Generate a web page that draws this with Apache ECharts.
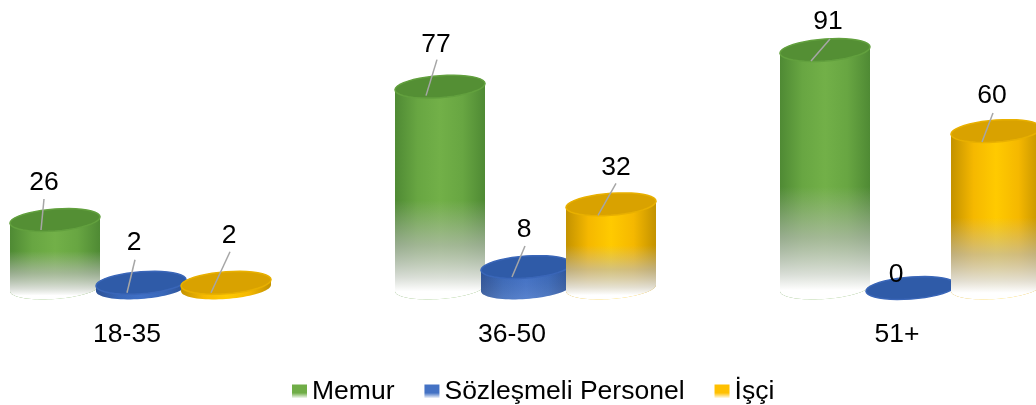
<!DOCTYPE html>
<html>
<head>
<meta charset="utf-8">
<script src="https://cdn.jsdelivr.net/npm/echarts@6/dist/echarts.min.js"></script>
<style>
html,body{margin:0;padding:0;background:#fff;}
#chart{width:1036px;height:405px;filter:blur(0.5px);}
</style>
</head>
<body>
<div id="chart"></div>
<script>
const categories = ['18-35', '36-50', '51+'];
const memur = [26, 77, 91];
const sozlesmeli = [2, 8, 0];
const isci = [2, 32, 60];

const FONT = '"Liberation Sans", Arial, sans-serif';
const BAR_RX = 45, BAR_RY = 11, TILT = Math.tan(4 * Math.PI / 180);

// label / leader line offsets from the bar top centre: [labelX, labelY, lineX1, lineY1, lineX2, lineY2]
const memurLabels = [[-11, -37, -11, -21, -14, 10], [-4, -42, -3, -27, -14, 9], [3, -28, 5, -11, -14, 11]];
const sozlesmeliLabels = [[-7, -40, -6, -23, -14, 10], [-2, -37, -1, -21, -14, 10], [-15, -13]];
const isciLabels = [[3, -47, 4, -31, -15, 10], [5, -37, 5, -21, -13, 11], [-4, -35, -3, -18, -14, 11]];

function bodyGradient(theme) {
    return new echarts.graphic.LinearGradient(0, 0, 1, 0, [
        { offset: 0, color: theme.edge },
        { offset: 0.25, color: theme.body },
        { offset: 0.5, color: theme.mid },
        { offset: 0.75, color: theme.body },
        { offset: 1, color: theme.edge }
    ]);
}

function legendGradient(color) {
    return new echarts.graphic.LinearGradient(0, 0, 0, 1, [
        { offset: 0, color: color },
        { offset: 0.6, color: color },
        { offset: 1, color: '#fff' }
    ]);
}

// tilted ellipse arc, from angle a to angle b
function arc(cx, cy, a, b) {
    const pts = [];
    const n = 40;
    for (let i = 0; i <= n; i++) {
        const t = a + (b - a) * i / n;
        const x = BAR_RX * Math.cos(t);
        pts.push([cx + x, cy + BAR_RY * Math.sin(t) - x * TILT]);
    }
    return pts;
}

function cylinder(offsetX, labels, theme) {
    return function (params, api) {
        const idx = api.value(0);
        const val = api.value(1);
        const top = api.coord([idx, val]);
        const base = api.coord([idx, 0]);
        const cx = top[0] + offsetX;
        const h = base[1] - top[1];
        // outline: upper arc of the top, lower arc of the base
        const outline = arc(cx, top[1], Math.PI, 2 * Math.PI).concat(arc(cx, base[1], 0, Math.PI));
        const f = 0.62 * h / (h + 2 * BAR_RY);
        // short bars barely fade
        const s = Math.pow(Math.min(1, h / 60), 2);
        const children = [
            {
                type: 'polygon',
                shape: { points: outline },
                style: { fill: bodyGradient(theme) }
            },
            {
                type: 'polygon',
                shape: { points: outline },
                style: {
                    fill: new echarts.graphic.LinearGradient(0, 0, 0, 1, [
                        { offset: f, color: 'rgba(190,190,190,0)' },
                        { offset: f + (1 - f) * 0.45, color: 'rgba(190,190,190,' + 0.65 * s + ')' },
                        { offset: f + (1 - f) * 0.78, color: 'rgba(228,228,228,' + 0.92 * s + ')' },
                        { offset: f + (1 - f) * 0.92, color: 'rgba(255,255,255,' + s + ')' },
                        { offset: 1, color: 'rgba(255,255,255,' + s + ')' }
                    ])
                }
            },
            {
                type: 'polygon',
                shape: { points: arc(cx, top[1], 0, 2 * Math.PI) },
                style: { fill: theme.top, stroke: theme.rim, lineWidth: 1.5 }
            }
        ];
        const l = labels[idx];
        if (l.length > 2) {
            children.push({
                type: 'line',
                shape: { x1: cx + l[2], y1: top[1] + l[3], x2: cx + l[4], y2: top[1] + l[5] },
                style: { stroke: '#a6a6a6', lineWidth: 1.5 }
            });
        }
        children.push({
            type: 'text',
            x: cx + l[0],
            y: top[1] + l[1],
            style: { text: String(val), fill: '#000', font: '26.5px ' + FONT, align: 'center', verticalAlign: 'middle' }
        });
        return { type: 'group', children: children };
    };
}

function makeSeries(name, values, offsetX, labels, theme) {
    return {
        name: name,
        type: 'custom',
        coordinateSystem: 'cartesian2d',
        renderItem: cylinder(offsetX, labels, theme),
        data: values.map((v, i) => [i, v]),
        encode: { x: 0, y: 1 }
    };
}

const chart = echarts.init(document.getElementById('chart'));
chart.setOption({
    backgroundColor: '#fff',
    animation: false,
    grid: { left: -51.5, right: -67.5, top: 26.5, bottom: 117, outerBoundsMode: 'none' },
    xAxis: {
        type: 'category',
        data: categories,
        axisLine: { show: false },
        axisTick: { show: false },
        axisLabel: { color: '#000', fontFamily: FONT, fontSize: 26.5, margin: 33, padding: [0, 28, 0, 0], interval: 0 }
    },
    yAxis: { type: 'value', min: 0, max: 100, show: false, splitLine: { show: false } },
    legend: {
        left: 287,
        top: 373,
        selectedMode: false,
        icon: 'rect',
        itemWidth: 15,
        itemHeight: 14,
        itemGap: 30,
        textStyle: { color: '#000', fontFamily: FONT, fontSize: 26.5 },
        data: [
            { name: 'Memur', itemStyle: { color: legendGradient('#70ad47') } },
            { name: 'Sözleşmeli Personel', itemStyle: { color: legendGradient('#4472c4') } },
            { name: 'İşçi', itemStyle: { color: legendGradient('#ffc000') } }
        ]
    },
    series: [
        makeSeries('Memur', memur, -86, memurLabels, { edge: '#4f8a34', body: '#68a642', mid: '#72b048', top: '#548f34', rim: '#62a03e' }),
        makeSeries('Sözleşmeli Personel', sozlesmeli, 0, sozlesmeliLabels, { edge: '#2c5196', body: '#3766b8', mid: '#3f6fc6', top: '#2f5ba8', rim: '#3a66b8' }),
        makeSeries('İşçi', isci, 85, isciLabels, { edge: '#c39200', body: '#f5b800', mid: '#ffca00', top: '#d9a200', rim: '#e8b000' })
    ]
});
window.addEventListener('resize', () => { chart.resize(); });
</script>
</body>
</html>
